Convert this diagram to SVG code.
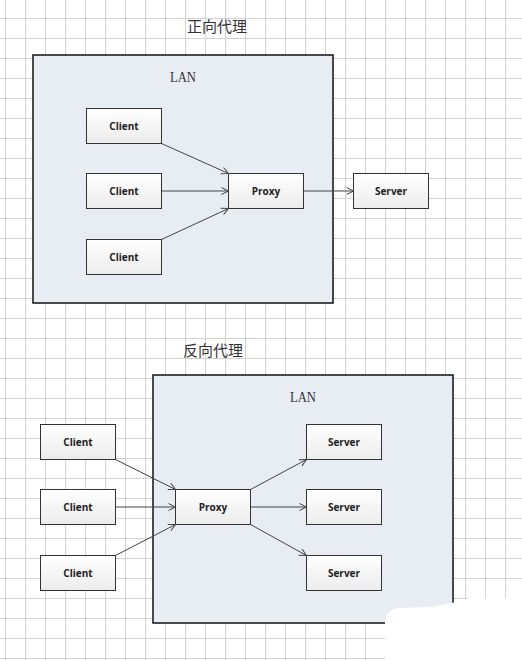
<svg xmlns="http://www.w3.org/2000/svg" width="522" height="660" viewBox="0 0 522 660">
<defs>
<pattern id="grid" x="5" y="18" width="20" height="20" patternUnits="userSpaceOnUse">
<path d="M0.5 0 V20 M0 0.5 H20" stroke="#d2d2d2" stroke-width="1" fill="none"/>
</pattern>
<linearGradient id="boxg" x1="0" y1="0" x2="0" y2="1">
<stop offset="0" stop-color="#ffffff"/>
<stop offset="1" stop-color="#ececec"/>
</linearGradient>
<marker id="arr" markerWidth="10" markerHeight="10" refX="8" refY="4" orient="auto" markerUnits="userSpaceOnUse">
<path d="M1 0.5 L8 4 L1 7.5" fill="none" stroke="#444" stroke-width="1"/>
</marker>
</defs>
<style>
.title{font-family:"Noto Sans CJK SC","Noto Sans CJK JP",sans-serif;font-size:15px;fill:#333;text-anchor:middle}
.lan{font-family:"Liberation Serif",serif;font-size:15px;fill:#333;text-anchor:middle}
.lanbox{fill:#e8edf4;stroke:#111;stroke-width:1.5}
.box{fill:url(#boxg);stroke:#333;stroke-width:1}
.lbl{font-family:"Open Sans","Liberation Sans",sans-serif;font-size:10px;font-weight:bold;fill:#222;text-anchor:middle}
.con{stroke:#444;stroke-width:1;fill:none;marker-end:url(#arr)}
</style>
<rect width="522" height="660" fill="#ffffff"/>
<rect width="522" height="660" fill="url(#grid)"/>

<text class="title" x="217" y="32">正向代理</text>
<g id="lan1">
<rect class="lanbox" x="33" y="55" width="300" height="248"/>
<text class="lan" x="183" y="82" textLength="26" lengthAdjust="spacingAndGlyphs">LAN</text>
</g>
<g id="fclient1"><rect class="box" x="86.5" y="108.5" width="75" height="35"/><text class="lbl" x="124" y="129.5">Client</text></g>
<g id="fclient2"><rect class="box" x="86.5" y="173.5" width="75" height="35"/><text class="lbl" x="124" y="194.5">Client</text></g>
<g id="fclient3"><rect class="box" x="86.5" y="239.5" width="75" height="35"/><text class="lbl" x="124" y="260.5">Client</text></g>
<g id="fproxy"><rect class="box" x="228.5" y="173.5" width="75" height="35"/><text class="lbl" x="266" y="194.5">Proxy</text></g>
<g id="fserver"><rect class="box" x="353.5" y="173.5" width="75" height="35"/><text class="lbl" x="391" y="194.5">Server</text></g>

<text class="title" x="213" y="356">反向代理</text>
<g id="lan2">
<rect class="lanbox" x="153" y="375" width="300" height="248"/>
<text class="lan" x="303" y="402" textLength="26" lengthAdjust="spacingAndGlyphs">LAN</text>
</g>
<g id="rclient1"><rect class="box" x="40.5" y="424.5" width="75" height="35"/><text class="lbl" x="78" y="445.5">Client</text></g>
<g id="rclient2"><rect class="box" x="40.5" y="489.5" width="75" height="35"/><text class="lbl" x="78" y="510.5">Client</text></g>
<g id="rclient3"><rect class="box" x="40.5" y="555.5" width="75" height="35"/><text class="lbl" x="78" y="576.5">Client</text></g>
<g id="rproxy"><rect class="box" x="175.5" y="489.5" width="75" height="35"/><text class="lbl" x="213" y="510.5">Proxy</text></g>
<g id="rserver1"><rect class="box" x="306.5" y="424.5" width="75" height="35"/><text class="lbl" x="344" y="445.5">Server</text></g>
<g id="rserver2"><rect class="box" x="306.5" y="489.5" width="75" height="35"/><text class="lbl" x="344" y="510.5">Server</text></g>
<g id="rserver3"><rect class="box" x="306.5" y="555.5" width="75" height="35"/><text class="lbl" x="344" y="576.5">Server</text></g>

<g id="connectors">
<line class="con" x1="161.5" y1="143.5" x2="228.5" y2="173.5"/>
<line class="con" x1="161.5" y1="191" x2="228.5" y2="191"/>
<line class="con" x1="161.5" y1="239.5" x2="228.5" y2="208.5"/>
<line class="con" x1="303.5" y1="191" x2="353.5" y2="191"/>
<line class="con" x1="115.5" y1="459.5" x2="175.5" y2="489.5"/>
<line class="con" x1="115.5" y1="507" x2="175.5" y2="507"/>
<line class="con" x1="115.5" y1="555.5" x2="175.5" y2="524.5"/>
<line class="con" x1="250.5" y1="489.5" x2="306.5" y2="459.5"/>
<line class="con" x1="250.5" y1="507" x2="306.5" y2="507"/>
<line class="con" x1="250.5" y1="524.5" x2="306.5" y2="555.5"/>
</g>

<path d="M385 660 V622 Q386 610 398 608 L430 607 Q440 605 452 603 L470 598 H522 V660 Z" fill="#ffffff"/>
</svg>
